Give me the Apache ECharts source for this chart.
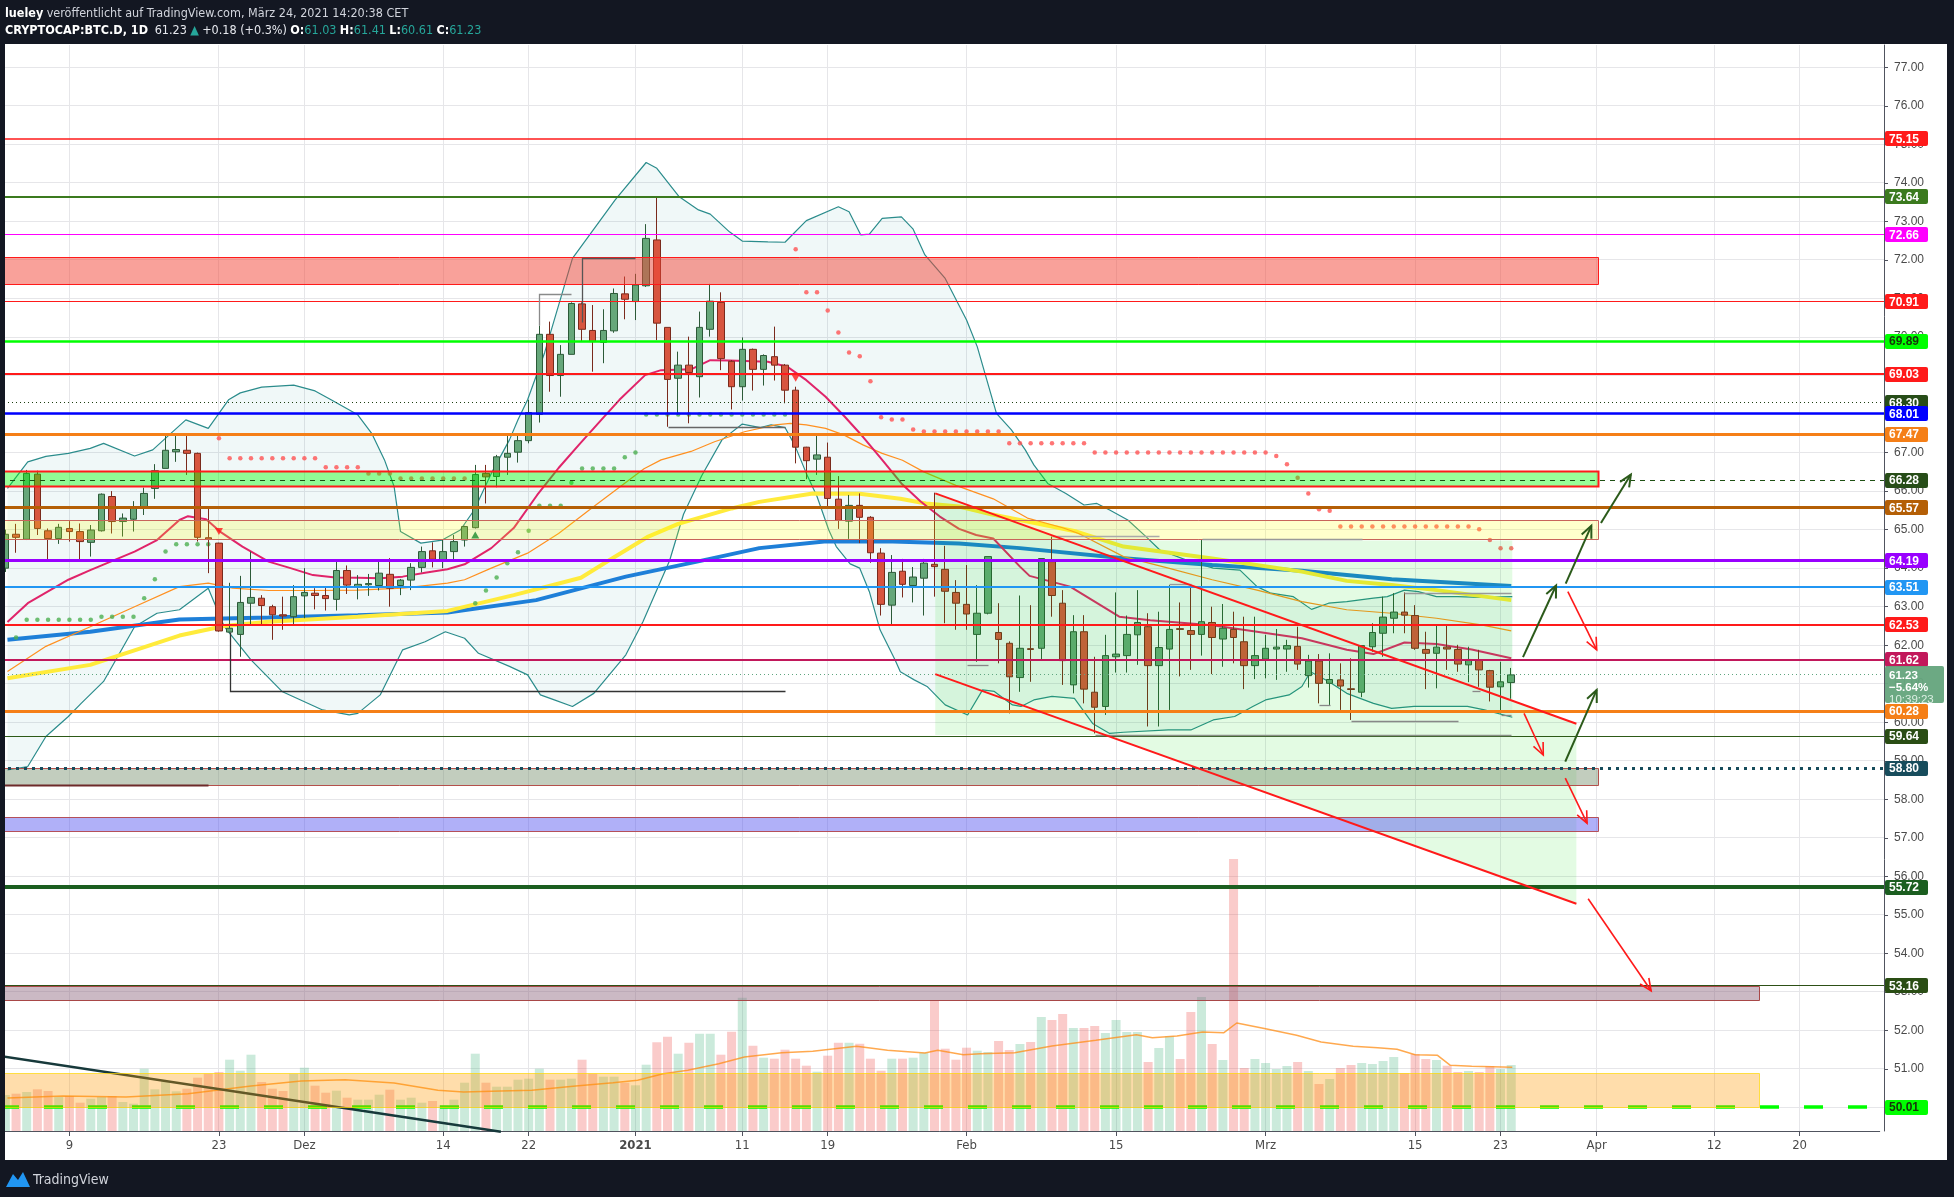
<!DOCTYPE html>
<html><head><meta charset="utf-8">
<script src="https://cdn.jsdelivr.net/npm/echarts/dist/echarts.min.js"></script>
<style>html,body{margin:0;padding:0;background:#131722;}#c{width:1954px;height:1197px;}</style>
</head><body><div id="c"></div>
<script>
// ---------------- DATA ----------------
// categories: one per day, 2020-11-03 .. 2021-04-27 (index 6 = Nov 9 = day 0)
const categories = [];
(function(){ const t0 = Date.UTC(2020,10,3); for (let i=0;i<176;i++){ categories.push(new Date(t0+i*86400000).toISOString().slice(0,10)); } })();
const D_OFFSET = 6;

const timeLabels = {'2020-11-09':'9','2020-11-23':'23','2020-12-01':'Dez','2020-12-14':'14','2020-12-22':'22','2021-01-01':'2021','2021-01-11':'11','2021-01-19':'19','2021-02-01':'Feb','2021-02-15':'15','2021-03-01':'Mrz','2021-03-15':'15','2021-03-23':'23','2021-04-01':'Apr','2021-04-12':'12','2021-04-20':'20'};
const priceTicks = [50,51,52,53,54,55,56,57,58,59,60,61,62,63,64,65,66,67,68,69,70,71,72,73,74,75,76,77];

// daily candles [open, high, low, close] from 2020-11-03
const candles = [
[64.00,65.00,63.90,64.88],[64.88,65.15,64.40,64.80],[64.75,66.55,64.73,66.46],[66.44,66.53,64.86,65.03],[64.97,65.03,64.21,64.77],
[64.77,65.15,64.63,65.06],[65.03,65.22,64.69,64.95],[64.95,65.16,64.21,64.69],[64.67,65.12,64.30,64.99],[64.97,65.94,64.95,65.92],
[65.86,66.00,64.90,65.21],[65.21,65.42,64.82,65.30],[65.27,65.74,64.95,65.55],[65.58,66.09,65.38,65.94],[66.07,66.70,65.80,66.53],
[66.59,67.46,66.59,67.06],[67.02,67.43,66.76,67.08],[67.06,67.43,66.42,66.98],[66.98,67.00,64.69,64.80],[64.79,65.55,63.87,64.75],
[64.65,64.66,62.35,62.37],[62.34,63.62,62.33,62.44],[62.28,63.80,61.70,63.11],[63.09,64.43,62.53,63.24],[63.22,63.30,62.53,63.03],
[63.00,63.05,62.14,62.79],[62.79,63.26,62.40,62.76],[62.74,63.56,62.55,63.26],
// Dec
[63.28,64.00,62.70,63.37],[63.35,63.48,62.93,63.29],[63.29,63.52,62.90,63.21],[63.19,64.19,62.90,63.94],[63.94,64.07,63.33,63.56],
[63.52,63.82,63.19,63.58],[63.57,63.85,63.28,63.60],[63.55,64.23,63.42,63.87],[63.84,64.26,63.00,63.48],[63.55,63.72,63.30,63.69],
[63.69,64.13,63.43,64.02],[64.02,64.56,63.89,64.43],[64.45,64.67,64.02,64.23],[64.20,64.73,64.00,64.43],[64.43,64.86,64.17,64.69],
[64.73,65.10,64.56,65.08],[65.05,66.68,65.03,66.43],[66.46,66.68,65.68,66.37],[66.38,66.94,66.10,66.89],[66.88,67.46,66.42,66.98],
[67.01,67.50,66.74,67.31],[67.31,68.37,67.24,68.04],[67.99,70.30,67.78,70.07],[70.07,70.40,68.58,69.00],[69.00,69.79,68.45,69.55],
[69.55,70.90,69.55,70.87],[70.86,70.90,69.88,70.20],[70.17,70.83,69.10,69.88],[69.86,70.72,69.32,70.17],[70.16,71.26,70.11,71.13],
[71.12,71.57,70.46,70.98],
// Jan
[70.92,71.64,70.44,71.35],[71.33,72.93,71.30,72.56],[72.52,73.63,69.92,70.36],[70.25,70.25,67.67,68.90],[68.93,69.62,67.98,69.27],
[69.27,70.01,67.76,69.08],[68.97,70.66,68.43,70.25],[70.20,71.38,70.01,70.93],[70.90,71.16,69.14,69.44],[69.37,69.40,68.12,68.71],
[68.71,69.99,68.35,69.68],[69.68,69.70,68.61,69.16],[69.16,69.55,68.74,69.52],[69.49,70.27,68.87,69.27],[69.27,69.30,68.28,68.62],
[68.62,68.71,66.72,67.14],[67.14,67.15,66.31,66.79],[66.83,67.50,66.42,66.94],[66.88,67.26,65.60,65.81],[65.79,66.39,65.02,65.24],
[65.22,65.90,64.76,65.63],[65.63,65.94,64.65,65.32],[65.32,65.35,64.14,64.40],[64.39,64.52,62.77,63.06],[63.04,64.34,62.53,63.89],
[63.92,64.24,63.24,63.58],[63.55,64.03,63.11,63.77],[63.74,64.24,62.77,64.13],[64.10,65.96,63.26,64.04],[63.97,64.58,62.57,63.40],
[63.37,63.69,62.40,63.09],
// Feb
[63.06,64.08,62.40,62.81],[62.28,63.56,61.57,62.83],[62.83,64.30,62.80,64.30],[62.33,63.09,61.53,62.15],[62.05,62.10,60.23,61.18],
[61.16,63.29,60.79,61.92],[61.91,63.04,61.05,61.89],[61.92,64.25,61.63,64.25],[64.17,64.82,62.74,63.29],[63.09,63.43,60.97,61.60],
[60.97,62.78,60.75,62.35],[62.35,62.78,60.49,60.86],[60.78,61.70,59.71,60.39],[60.41,62.27,60.19,61.73],[61.70,63.37,61.29,61.77],
[61.73,62.77,61.29,62.28],[62.27,63.43,61.49,62.59],[62.48,62.83,59.89,61.47],[61.47,62.87,59.89,61.94],[61.90,63.56,60.32,62.41],
[62.43,63.11,61.19,62.41],[62.38,63.55,61.36,62.28],[62.28,64.73,61.73,62.61],[62.59,63.00,61.25,62.20],[62.16,63.07,61.44,62.44],
[62.41,62.87,61.53,62.20],[62.09,62.74,60.86,61.47],[61.47,62.74,61.12,61.73],
// Mar
[61.64,62.27,61.14,61.92],[61.90,62.42,61.10,61.95],[61.90,62.14,61.31,61.99],[61.97,62.48,61.36,61.51],[61.21,61.75,60.90,61.59],
[61.59,61.77,60.49,61.01],[61.01,61.79,60.45,61.11],[61.10,61.53,60.32,60.94],[60.87,61.66,60.06,60.85],[60.78,61.99,60.65,61.99],
[61.96,62.57,61.83,62.33],[62.31,63.26,61.70,62.73],[62.70,63.35,62.31,62.86],[62.86,63.37,62.31,62.78],[62.77,63.04,61.88,61.92],
[61.89,62.35,60.86,61.79],[61.79,62.50,60.88,61.95],[61.95,62.50,61.36,61.90],[61.89,62.01,61.31,61.51],[61.49,61.96,61.04,61.63],
[61.62,61.88,60.92,61.36],[61.34,61.36,60.54,60.91],[60.92,61.57,60.23,61.05],[61.03,61.41,60.61,61.23]
];

// volume (relative bar heights) from 2020-11-03
const volume = [
36,37.3,39,41.7,40,34,35,28.3,32.3,34,35,29,27.3,62.3,41.7,50,39.7,42.3,53.3,57.3,59,71.3,60.3,76.3,49,42.3,40,57.3,
63.3,45.3,38.3,40.3,33.3,31.3,31.3,36.3,41.3,31.3,33.3,28.3,30,25.7,31.3,48.3,77.3,48.3,44.3,44.3,51.3,52.3,62.3,51.3,51.3,52.3,71.3,57.3,54.3,54.3,48.3,
45.7,66.3,88.7,94.3,77.3,88.3,97.3,97.3,76.3,99.3,133.3,85.3,73.3,72.3,81.3,72.3,65.3,59.3,75.3,88.3,88.3,87.3,72.3,60.3,72.3,72.3,73.3,78.3,130.3,82.3,71.3,
83.3,80.3,79,90,81,87,89,114,111,117,103,103,105,98,111,99,99,69,83,94.7,72,119,134,87,71,272,63,72,
68,62,65,69,60,47,52,63,66,68,67,70,74,58,77,72,71,65.3,59,60,59,65,62,66
];
// volume moving average [day, value]
const volumeMA = [[-5.8,33],[-0.6,35],[5.3,34],[11.1,37.3],[17,45],[21.7,50],[25.8,51.3],[30.4,48],[34.5,40.7],[36.9,39],[40.4,40],[43.3,40.7],[47.4,45],[50.9,48.3],[53.2,50.7],[55.6,57.3],[57.9,60.7],[60.8,67.3],[63.2,74],[66.7,78.3],[69.6,79.7],[73.7,84.7],[76.6,80.7],[80.1,78],[81.3,80.7],[83.7,76.3],[85.3,77.3],[88.5,78.3],[92,85],[96.1,90.7],[99.9,96.3],[101.4,93.3],[103.7,95],[106.1,99],[108.1,98.3],[109.3,108],[112,102.3],[114.9,95.7],[117.2,89],[120.2,84.7],[122.5,83.3],[124.3,81.7],[126,76.3],[128.1,75.7],[129.3,65.7],[131.3,64.7],[135.1,63.7]];

// indicators [day, price]  (day 0 = 2020-11-09)
const bbUpper = [[-5.8,66.07],[-3.9,66.76],[-2.2,66.9],[-0.1,66.98],[1.95,67.11],[3.2,67.24],[6.1,66.91],[7.8,67.07],[9.5,67.5],[10.9,67.85],[13,67.63],[14.9,68.37],[16,68.55],[18,68.7],[21,68.75],[23,68.6],[24.5,68.37],[27,67.98],[28.3,67.5],[29.5,66.81],[30.4,66.12],[31,64.95],[32.9,64.65],[34.9,64.73],[36.6,64.99],[37.9,65.51],[39.5,66.46],[41.2,67.33],[42,67.85],[42.9,68.37],[44.5,69.6],[47.1,72.04],[51.1,73.56],[54,74.53],[55,74.38],[57.1,73.64],[58.9,73.3],[60,73.19],[61.8,72.73],[63,72.49],[65.4,72.47],[67,72.46],[69,73.02],[72,73.38],[73,73.25],[74.1,72.65],[74.9,72.67],[76.1,73.08],[77.9,73.12],[79,72.8],[80.1,72.13],[82,71.52],[84,70.44],[85,69.75],[86.8,68.02],[88.2,67.59],[89.5,67.07],[90.3,66.68],[91.6,66.2],[93.3,65.94],[95,65.64],[96.2,65.68],[97.4,65.51],[99.1,65.25],[100.8,64.82],[102.1,64.47],[104.6,64.21],[107.1,64.0],[109.6,63.95],[111.2,63.52],[112.5,63.35],[114.6,63.26],[116.3,62.93],[117.9,63.09],[119.6,63.13],[122.1,63.22],[123.4,63.26],[125,63.43],[126.3,63.39],[128,63.26],[130,63.26],[132,63.24],[135.1,63.26]];
const bbLower = [[-5.8,58.76],[-3.9,58.85],[-2.2,59.63],[-0.1,60.15],[1.1,60.49],[3.2,61.06],[6.1,62.48],[8.2,62.83],[10.3,62.92],[13,63.48],[14.5,62.48],[17,61.62],[19.9,60.8],[23.7,60.32],[26.2,60.19],[27,60.23],[29.1,60.71],[31.2,61.88],[33.3,62.09],[35.2,62.35],[37,62.18],[38.3,61.79],[41.2,61.45],[42.9,61.23],[44.1,60.71],[45.4,60.58],[47.1,60.41],[49.1,60.75],[52.1,61.75],[53.7,62.61],[56.2,64.2],[57.5,65.4],[59.2,66.4],[61.1,67.33],[63,67.74],[64.7,67.65],[65.7,67.72],[67,67.65],[67.9,67.2],[69,66.46],[70,65.86],[71.1,64.99],[71.8,64.56],[73.1,64.11],[74,64.0],[74.9,63.39],[75.9,62.4],[77.3,61.62],[77.8,61.31],[79.1,61.1],[80.3,60.93],[82,60.45],[84.1,60.19],[85.5,60.84],[86.6,60.8],[88.3,60.45],[89.1,60.41],[90.3,60.58],[92,60.67],[94.1,60.62],[95.8,59.97],[97.4,59.71],[98.7,59.74],[102.9,59.8],[105,59.8],[107.1,60.06],[109.1,60.15],[110.8,60.41],[112,60.58],[114.2,60.71],[115.4,60.93],[116.2,61.31],[117.9,61.06],[119.6,60.75],[122.1,60.49],[123.8,60.36],[125.9,60.41],[128,60.41],[130.9,60.41],[132.5,60.32],[135.1,60.13]];
const emaFast = [[-5.8,62.6],[-3.9,63.09],[-0.1,63.7],[1.95,63.95],[6.1,64.43],[8.2,64.73],[10.3,65.25],[11.1,65.35],[12.8,65.27],[14.1,64.95],[16.2,64.56],[18.65,64.17],[20.7,64.0],[22.8,63.82],[24.9,63.76],[27,63.75],[29.1,63.74],[31.2,63.78],[33.3,63.88],[35.4,63.97],[37,64.1],[39.5,64.52],[41.6,65.04],[43.8,65.9],[45.8,66.6],[47.7,67.2],[49.8,67.85],[51.5,68.37],[53.9,69.01],[55.4,69.14],[58.2,69.16],[60,69.4],[61.8,69.39],[65.4,69.36],[67.2,69.23],[69,68.88],[70.8,68.45],[72.6,67.93],[74.3,67.41],[76.1,66.81],[77.9,66.2],[79.7,65.73],[81.5,65.34],[83.3,65.02],[84.9,64.86],[86.5,64.77],[89,64.04],[89.9,63.8],[93.7,63.52],[98.3,62.74],[101.2,62.65],[107,62.52],[111.2,62.35],[115.4,62.18],[119.6,61.88],[122.1,61.77],[125,62.07],[128,62.03],[131.3,61.89],[135,61.66]];
const emaMid = [[-5.8,61.32],[-2.2,61.97],[1.95,62.48],[6.1,63.0],[10.3,63.52],[13,63.61],[15.3,63.48],[18.65,63.42],[22.8,63.42],[27,63.43],[31.2,63.48],[35.4,63.61],[37,63.7],[39.5,64.0],[42.9,64.39],[45.8,64.9],[49.1,65.6],[53.8,66.58],[55.4,66.81],[58.2,67.03],[60.4,67.28],[63.2,67.54],[66.1,67.72],[67.5,67.76],[69,67.72],[70.8,67.63],[72.5,67.46],[74.3,67.2],[76.1,66.98],[78,66.8],[80,66.5],[83,66.15],[86.5,65.8],[89.7,65.3],[93,65.05],[94.5,64.9],[98.7,64.3],[102.9,64.0],[107,63.7],[111.2,63.43],[115.4,63.13],[119.6,62.92],[123.8,62.83],[128,62.7],[132.2,62.53],[135,62.37]];
const sma100 = [[-5.8,61.14],[1.95,61.49],[10.3,62.25],[14.5,62.5],[18.65,62.61],[27,62.74],[35.4,62.89],[41.6,63.3],[47.9,63.75],[50.5,64.2],[54.2,64.82],[57,65.15],[59.5,65.35],[62,65.55],[64.6,65.72],[69.6,65.94],[74,65.93],[77.8,65.8],[80.2,65.68],[83.3,65.6],[86.3,65.4],[89,65.25],[94.3,64.95],[98.7,64.56],[107,64.25],[115.4,63.91],[119.6,63.67],[123.8,63.56],[128,63.43],[135,63.17]];
const sma200 = [[-5.8,62.14],[1.95,62.35],[10.3,62.67],[18.65,62.72],[27,62.78],[35.4,62.85],[43.7,63.17],[52.1,63.78],[59.1,64.19],[64.6,64.52],[70.9,64.7],[77.1,64.69],[83.3,64.64],[89,64.52],[98.7,64.26],[107,64.08],[115.4,63.93],[123.8,63.71],[135,63.54]];
const sarUp = [[-5,62.2],[-4,62.66],[-3,62.66],[-2,62.66],[-1,62.66],[0,62.66],[1,62.66],[2,62.66],[3,62.74],[4,62.74],[5,62.74],[6,62.74],[7,63.22],[8,63.71],[9,64.43],[10,64.62],[11,64.62],[12,64.62],[13,64.62],
[38,63.09],[39,63.42],[40,63.76],[41,64.13],[42,64.41],[43,64.97],[44,65.62],[45,65.62],[46,65.62],[47,66.22],[48,66.59],[49,66.59],[50,66.59],[51,66.59],[52,66.88],[53,67.0],
[54,67.99],[55,67.99],[56,67.99],[57,67.99],[58,67.99],[59,67.99],[60,67.99],[61,67.99],[62,67.99],[63,67.99],[64,67.99],[65,67.99],[66,67.99],[67,67.99]];
const sarDown = [[14,67.37],[15,66.85],[16,66.85],[17,66.85],[18,66.85],[19,66.85],[20,66.85],[21,66.85],[22,66.85],[23,66.85],[24,66.62],[25,66.62],[26,66.62],[27,66.62],[28,66.46],[29,66.46],[30,66.46],[31,66.33],[32,66.33],[33,66.33],[34,66.33],[35,66.33],[36,66.33],[37,66.33],
[68,72.28],[69,71.16],[70,71.16],[71,70.69],[72,70.12],[73,69.6],[74,69.5],[75,68.85],[76,67.92],[77,67.86],[78,67.86],[79,67.6],[80,67.55],[81,67.55],[82,67.55],[83,67.55],[84,67.55],[85,67.55],[86,67.55],[87,67.55],
[88,67.24],[89,67.24],[90,67.24],[91,67.24],[92,67.24],[93,67.24],[94,67.24],[95,67.24],
[96,67.0],[97,67.0],[98,67.0],[99,67.0],[100,67.0],[101,67.0],[102,67.0],[103,67.0],[104,67.0],[105,67.0],[106,67.0],[107,67.0],[108,67.0],[109,67.0],[110,67.0],[111,67.0],[112,67.0],
[113,66.91],[114,66.7],[115,66.35],[116,65.94],[117,65.53],[118,65.49],[119,65.08],[120,65.08],[121,65.08],[122,65.08],[123,65.08],[124,65.08],[125,65.08],[126,65.08],[127,65.08],[128,65.08],[129,65.08],[130,65.08],[131,65.08],[132,65.01],[133,64.73],[134,64.52],[135,64.52]];
const flipUp = [[38,64.86]];
const flipDown = [[14,64.95],[68,68.93]];

// horizontal levels (price) and their look
const levelPrices = [75.15,73.64,72.66,70.91,69.89,69.03,68.30,68.01,67.47,66.28,65.57,64.19,63.51,62.53,61.62,60.28,59.64,58.80,55.72,53.16,50.01,61.23];
const levelStyles = [
 {c:'#ff1a1a',w:1.5,bg:'#ff1a1a'},{c:'#3b7a1e',w:2,bg:'#3b7a1e'},{c:'#ff00ff',w:1,bg:'#ff00ff'},{c:'#ff1a1a',w:1,bg:'#ff1a1a'},
 {c:'#00ff00',w:2.5,bg:'#00ff00',tc:'#17330b'},{c:'#ff1a1a',w:2,bg:'#ff1a1a'},{c:'#1d3d10',w:1,dash:[1,3],bg:'#274d18'},
 {c:'#0000ff',w:2.5,bg:'#0000ff'},{c:'#f57f17',w:3,bg:'#f57f17'},{c:'#1f5014',w:1,dash:[5,5],bg:'#274d18'},
 {c:'#b45f06',w:3,bg:'#b45f06'},{c:'#9900ff',w:3,bg:'#9900ff'},{c:'#2196f3',w:2,bg:'#2196f3'},{c:'#ff1a1a',w:2,bg:'#ff1a1a'},
 {c:'#c2185b',w:2,bg:'#c2185b'},{c:'#f57f17',w:3,bg:'#f57f17'},{c:'#2d5a17',w:1,bg:'#2a4d14'},
 {c:'#174c5c',w:3,dash:[3,5],bg:'#174c5c'},{c:'#1b5e20',w:4,bg:'#1b5e20'},{c:'#2d5016',w:1,bg:'#2a4d14'},
 {c:'#00ff00',w:3.5,dash:[19,25],bg:'#00ff00',tc:'#17330b',under:true},
 {c:'#5fa57f',w:1,dash:[1,3],bg:null}
];
const lastPriceLines = ['61.23','\u22125.64%','10:39:23'];

// zones: top price, bottom price, end day
const zoneTops = [72.07,66.53,65.24,58.82,57.53,53.16,50.89];
const zoneBottoms = [71.37,66.14,64.75,58.37,57.19,52.78,50.02];
const zoneEnds = [143.1,143.1,143.1,143.1,143.1,158.2,158.2];
const zoneStyles = [
 {fill:'rgba(244,67,54,0.5)',stroke:'#ff1a1a',w:1},
 {fill:'rgba(0,255,0,0.4)',stroke:'#ff1a1a',w:2},
 {fill:'rgba(255,255,0,0.2)',stroke:'#c8645a',w:1},
 {fill:'rgba(120,145,110,0.45)',stroke:'#b4504b',w:1},
 {fill:'rgba(80,80,240,0.45)',stroke:'#b4505a',w:1},
 {fill:'rgba(140,100,125,0.45)',stroke:'#a84848',w:1},
 {fill:'rgba(255,152,0,0.33)',stroke:'rgba(255,215,0,0.7)',w:1}
];

// drawings [day, price]
const channelUpper = [[81.07,65.94],[141.1,59.96]];
const channelLower = [[81.07,61.25],[141.1,55.29]];
const rangeBox = {d0:81.07, d1:135.1, top:64.72, bottom:59.67};
const trendLine = [[-6.6,51.34],[40.4,49.37]];
const arrows = [[136.1,61.69,139.2,63.55],[140.1,63.6,142.5,65.1],[143.4,65.17,146.2,66.43],[140.06,58.98,143.0,60.84],
                [140.3,63.39,143.0,61.88],[136.2,60.23,138.0,59.15],[140.06,58.55,142.1,57.38],[142.2,55.42,148.1,53.03]];
const arrowColors = ['#2b5a1a','#2b5a1a','#2b5a1a','#2b5a1a','#ff1a1a','#ff1a1a','#ff1a1a','#ff1a1a'];
const brackets = [
 [[15,62.33],[15,60.8],[67,60.8]],[[44,70.3],[44,71.11],[47,71.11]],[[48,70.4],[48,72.06],[53,72.06]],[[56,67.67],[67,67.67]],
 [[84,61.49],[86,61.49]],[[92,64.84],[102,64.84]],[[103,63.58],[105,63.58]],[[106,64.75],[121,64.75]],[[117,60.45],[118,60.45]],
 [[120,60.04],[130,60.04]],[[125,63.36],[135,63.36]],[[131.3,60.8],[132.1,60.8]],[[134,60.19],[135,60.19]],[[96,59.67],[135,59.67]],
 [[-6.6,58.37],[13,58.37]]
];
const bracketColors = ['#333333','#8a8a8a','#555555','#666666','#888888','#aaaaaa','#999999','#999999','#888888','#888888','#999999','#888888','#888888','#8a8f88','#6e2a2a'];

// ---------------- CHART ----------------
const F_NARROW = '"Liberation Sans Narrow","DejaVu Sans Condensed","Liberation Sans",Arial,sans-serif';
const F_SANS = '"Liberation Sans",Arial,sans-serif';
const AXIS_GAP = 4.3;
function crisp(v,w){ return (Math.round(w)%2===1) ? Math.floor(v)+0.5 : Math.round(v); }
const labelInterval = function(i, v){ return timeLabels[v] !== undefined; };

function renderGrid(params, api){
  const cs = params.coordSys, ch = [];
  priceTicks.forEach(function(p){ const y = Math.floor(api.coord([0,p])[1]);
    ch.push({type:'rect',shape:{x:cs.x,y:y,width:cs.width+AXIS_GAP,height:1},style:{fill:'#e6e6e9',stroke:'none'}}); });
  Object.keys(timeLabels).forEach(function(k){ const d = categories.indexOf(k)-D_OFFSET; const x = Math.floor(api.coord([d,60])[0]);
    ch.push({type:'rect',shape:{x:x,y:cs.y,width:1,height:cs.height},style:{fill:'#e6e6e9',stroke:'none'}}); });
  return {type:'group',children:ch};
}
function renderBBFill(params, api){
  const pts = bbUpper.map(function(q){return api.coord(q);}).concat(bbLower.slice().reverse().map(function(q){return api.coord(q);}));
  return {type:'polygon',shape:{points:pts},style:{fill:'rgba(0,128,128,0.06)',stroke:'none'}};
}
function lineAt(seg,d){ return seg[0][1]+(seg[1][1]-seg[0][1])*(d-seg[0][0])/(seg[1][0]-seg[0][0]); }
function dAt(seg,p){ return seg[0][0]+(p-seg[0][1])*(seg[1][0]-seg[0][0])/(seg[1][1]-seg[0][1]); }
function renderChannelFill(params, api){
  const b = rangeBox, d2 = channelUpper[1][0];
  const P = [[channelUpper[0][0],channelUpper[0][1]],[dAt(channelUpper,b.top),b.top],[b.d1,b.top],[b.d1,lineAt(channelUpper,b.d1)],
             [d2,lineAt(channelUpper,d2)],[d2,lineAt(channelLower,d2)],[dAt(channelLower,b.bottom),b.bottom],[b.d0,b.bottom]];
  return {type:'polygon',shape:{points:P.map(function(q){return api.coord(q);})},style:{fill:'rgba(0,220,0,0.11)',stroke:'none'}};
}
function renderLevels(under){
  return function(params, api){
    const cs = params.coordSys, ch = [];
    levelPrices.forEach(function(p,i){ const st = levelStyles[i]; if (!!st.under !== under) return;
      const y = crisp(api.coord([0,p])[1], st.w);
      ch.push({type:'line',shape:{x1:cs.x,y1:y,x2:cs.x+cs.width+AXIS_GAP,y2:y},style:{stroke:st.c,lineWidth:st.w,lineDash:st.dash||null,fill:'none'}}); });
    return {type:'group',children:ch};
  };
}
function renderTrend(params, api){
  const a = api.coord(trendLine[0]), b = api.coord(trendLine[1]);
  return {type:'line',shape:{x1:a[0],y1:a[1],x2:b[0],y2:b[1]},style:{stroke:'#17393b',lineWidth:2.5,fill:'none'}};
}
function renderZones(params, api){
  const cs = params.coordSys, ch = [];
  zoneTops.forEach(function(t,i){ const st = zoneStyles[i];
    const y1 = Math.round(api.coord([0,t])[1])+0.5, y2 = Math.round(api.coord([0,zoneBottoms[i]])[1])+0.5;
    const x2 = Math.round(api.coord([zoneEnds[i],60])[0])+0.5;
    ch.push({type:'rect',shape:{x:cs.x,y:y1,width:x2-cs.x,height:y2-y1},style:{fill:st.fill,stroke:st.stroke,lineWidth:st.w}}); });
  return {type:'group',children:ch};
}
function renderDrawings(params, api){
  const ch = [];
  brackets.forEach(function(pl,i){ ch.push({type:'polyline',shape:{points:pl.map(function(q){const c=api.coord(q);return [Math.round(c[0])+0.5,Math.round(c[1])+0.5];})},style:{stroke:bracketColors[i],lineWidth:i===14?2:1.3,fill:'none'}}); });
  [channelUpper, channelLower].forEach(function(seg){ const a=api.coord(seg[0]), b=api.coord(seg[1]);
    ch.push({type:'line',shape:{x1:a[0],y1:a[1],x2:b[0],y2:b[1]},style:{stroke:'#ff1a1a',lineWidth:2,fill:'none'}}); });
  return {type:'group',children:ch};
}
function renderArrows(params, api){
  const ch = [];
  arrows.forEach(function(r,i){ const a = api.coord([r[0],r[1]]), b = api.coord([r[2],r[3]]);
    const ang = Math.atan2(b[1]-a[1], b[0]-a[0]), L = 13, s = 0.42, col = arrowColors[i], w = col==='#ff1a1a'?1.6:2;
    ch.push({type:'line',shape:{x1:a[0],y1:a[1],x2:b[0],y2:b[1]},style:{stroke:col,lineWidth:w,fill:'none'}});
    ch.push({type:'polyline',shape:{points:[[b[0]-L*Math.cos(ang-s),b[1]-L*Math.sin(ang-s)],[b[0],b[1]],[b[0]-L*Math.cos(ang+s),b[1]-L*Math.sin(ang+s)]]},style:{stroke:col,lineWidth:w,fill:'none'}}); });
  return {type:'group',children:ch};
}
function renderBadges(params, api){
  const cs = params.coordSys, ch = [], X0 = Math.round(cs.x+cs.width+AXIS_GAP+1);
  levelPrices.forEach(function(p,i){ const st = levelStyles[i]; const y = api.coord([0,p])[1];
    if (st.bg){
      ch.push({type:'rect',shape:{x:X0,y:Math.round(y-7.5),width:43,height:15,r:2},style:{fill:st.bg,stroke:'none'}});
      ch.push({type:'text',style:{text:p.toFixed(2),x:X0+4,y:Math.round(y)+0.5,fill:st.tc||'#ffffff',font:'bold 12px '+F_SANS,align:'left',verticalAlign:'middle',textAlign:'left',textVerticalAlign:'middle'}});
    } else {
      ch.push({type:'rect',shape:{x:X0,y:Math.round(y-8.5),width:59,height:37,r:2},style:{fill:'rgba(102,166,126,0.96)',stroke:'none'}});
      lastPriceLines.forEach(function(t,k){
        ch.push({type:'text',style:{text:t,x:X0+4,y:Math.round(y)+0.5+k*12,fill:k===2?'#dcefe3':'#ffffff',font:(k===2?'':'bold ')+'11.5px '+F_SANS,align:'left',verticalAlign:'middle',textAlign:'left',textVerticalAlign:'middle'}});
      });
    }
  });
  return {type:'group',children:ch};
}
function customSeries(fn, z){ return {type:'custom',xAxisIndex:1,yAxisIndex:0,data:[[0,60]],renderItem:fn,z:z,silent:true,animation:false}; }
function lineSeries(data,color,width,z){ return {type:'line',xAxisIndex:1,yAxisIndex:0,data:data,showSymbol:false,symbol:'none',lineStyle:{color:color,width:width},z:z,silent:true}; }

const chart = echarts.init(document.getElementById('c'), null, {renderer:'canvas'});
chart.setOption({
  animation:false,
  backgroundColor:'#131722',
  graphic:[
    {type:'rect',z:-10,shape:{x:5,y:44,width:1942,height:1116},style:{fill:'#ffffff'}},
    {type:'rect',z:100,shape:{x:0,y:44,width:5,height:1116},style:{fill:'#131722'}},
    {type:'text',z:100,style:{x:5,y:14,verticalAlign:'middle',text:'{b|lueley} {n|ver\u00f6ffentlicht auf TradingView.com, M\u00e4rz 24, 2021 14:20:38 CET}',
      rich:{b:{fill:'#ffffff',fontWeight:'bold',fontSize:12.5,fontFamily:F_NARROW},n:{fill:'#d1d4dc',fontSize:12.5,fontFamily:F_NARROW}}}},
    {type:'text',z:100,style:{x:5,y:31,verticalAlign:'middle',text:'{b|CRYPTOCAP:BTC.D, 1D}  {w|61.23} {t|\u25B2} {w|+0.18 (+0.3%)} {b|O:}{t|61.03} {b|H:}{t|61.41} {b|L:}{t|60.61} {b|C:}{t|61.23}',
      rich:{b:{fill:'#ffffff',fontWeight:'bold',fontSize:12.5,fontFamily:F_NARROW},w:{fill:'#e6e8ee',fontSize:12.5,fontFamily:F_NARROW},t:{fill:'#26a69a',fontSize:12.5,fontFamily:F_NARROW}}}},
    {type:'polygon',z:100,shape:{points:[[6,1187],[13,1174],[18,1180],[23,1172],[30,1187]]},style:{fill:'#2196f3'}},
    {type:'text',z:100,style:{x:33,y:1180,verticalAlign:'middle',text:'TradingView',fill:'#d1d4dc',font:'14px '+F_NARROW}}
  ],
  grid:{left:-1,right:74.3,top:45,bottom:66,containLabel:false},
  xAxis:[
    {type:'category',data:categories,boundaryGap:true,gridIndex:0,
     axisLine:{show:true,onZero:false,lineStyle:{color:'#50535e',width:1}},
     axisTick:{show:true,alignWithLabel:true,interval:labelInterval,length:5,lineStyle:{color:'#50535e'}},
     axisLabel:{show:true,interval:labelInterval,hideOverlap:false,margin:8,color:'#4a4a4a',fontSize:13,fontFamily:F_NARROW,
       formatter:function(v){ const t = timeLabels[v]; return t==='2021' ? '{b|2021}' : (t||''); },
       rich:{b:{fontWeight:'bold',color:'#4a4a4a',fontSize:13,fontFamily:F_NARROW}}},
     splitLine:{show:false}},
    {type:'value',min:-6.5,max:169.5,gridIndex:0,show:false,axisLine:{show:false,onZero:false},axisTick:{show:false},axisLabel:{show:false},splitLine:{show:false}}
  ],
  yAxis:[
    {type:'value',position:'right',offset:AXIS_GAP,min:49.39,max:77.58,gridIndex:0,
     axisLine:{show:true,onZero:false,lineStyle:{color:'#50535e'}},
     axisTick:{show:true,customValues:priceTicks,length:4,lineStyle:{color:'#50535e'}},
     axisLabel:{show:true,customValues:priceTicks,margin:10,color:'#4a4a4a',fontSize:12,fontFamily:F_SANS,formatter:function(v){return v.toFixed(2);}},
     splitLine:{show:false}},
    {type:'value',position:'right',min:0,max:1086,gridIndex:0,show:false,axisLine:{show:false,onZero:false},axisTick:{show:false},axisLabel:{show:false},splitLine:{show:false}}
  ],
  series:[
    customSeries(renderGrid,1),
    customSeries(renderBBFill,1),
    {type:'bar',xAxisIndex:0,yAxisIndex:1,data:volume,barWidth:9,z:2,silent:true,
     itemStyle:{color:function(p){ const r = candles[p.dataIndex]; return r[3]>=r[0] ? 'rgba(38,166,104,0.24)' : 'rgba(239,83,80,0.3)'; }}},
    {type:'line',xAxisIndex:1,yAxisIndex:1,data:volumeMA,showSymbol:false,symbol:'none',lineStyle:{color:'rgba(255,140,20,0.75)',width:1.5},z:2,silent:true},
    lineSeries(bbUpper,'#2b8c8c',1.2,3),
    lineSeries(bbLower,'#2b8c8c',1.2,3),
    lineSeries(sma200,'#1e7fd8',4,3),
    lineSeries(sma100,'#ffeb3b',4,3),
    lineSeries(emaMid,'#ff9020',1.2,3),
    lineSeries(emaFast,'#e0246a',2,3),
    {type:'scatter',xAxisIndex:1,yAxisIndex:0,data:sarUp,symbolSize:4.5,itemStyle:{color:'#4caf50'},z:4,silent:true},
    {type:'scatter',xAxisIndex:1,yAxisIndex:0,data:sarDown,symbolSize:4.5,itemStyle:{color:'#ff5252'},z:4,silent:true},
    {type:'candlestick',xAxisIndex:0,yAxisIndex:0,barWidth:7,z:5,silent:true,
     data:candles.map(function(r){return [r[0],r[3],r[2],r[1]];}),
     itemStyle:{color:'#66a77a',color0:'#d7553f',borderColor:'#2c5a38',borderColor0:'#7a2a1c',borderWidth:1}},
    customSeries(renderChannelFill,6),
    customSeries(renderLevels(true),7),
    customSeries(renderTrend,7),
    customSeries(renderZones,8),
    customSeries(renderLevels(false),9),
    customSeries(renderDrawings,9),
    customSeries(renderArrows,10),
    {type:'scatter',xAxisIndex:1,yAxisIndex:0,data:flipUp,symbol:'triangle',symbolSize:[8,7],itemStyle:{color:'#1b8a2e'},z:10,silent:true},
    {type:'scatter',xAxisIndex:1,yAxisIndex:0,data:flipDown,symbol:'triangle',symbolRotate:180,symbolSize:[8,7],itemStyle:{color:'#ff1a1a'},z:10,silent:true},
    customSeries(renderBadges,20)
  ]
});
</script></body></html>
